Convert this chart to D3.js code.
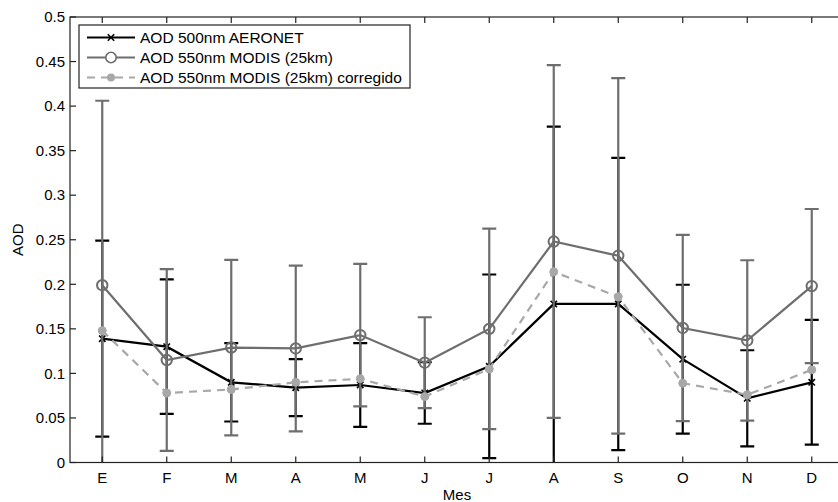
<!DOCTYPE html>
<html>
<head>
<meta charset="utf-8">
<script src="https://cdn.jsdelivr.net/npm/d3@7"></script>
<style>
  html, body { margin: 0; padding: 0; background: #fff; }
  svg { display: block; font-family: "Liberation Sans", Arial, Helvetica, sans-serif; }
</style>
</head>
<body>
<svg id="chart" width="838" height="502"></svg>
<script>
// Monthly AOD climatology: AERONET vs MODIS (25 km) and corrected MODIS
const months = ["E", "F", "M", "A", "M", "J", "J", "A", "S", "O", "N", "D"];

const aeronetMean = [0.139, 0.130, 0.090, 0.084, 0.087, 0.078, 0.108, 0.178, 0.178, 0.116, 0.072, 0.090];
const aeronetStd  = [0.110, 0.0755, 0.044, 0.032, 0.047, 0.0345, 0.103, 0.199, 0.164, 0.0835, 0.054, 0.070];

const modisMean = [0.199, 0.115, 0.129, 0.128, 0.143, 0.112, 0.150, 0.248, 0.232, 0.151, 0.137, 0.198];
const modisStd  = [0.207, 0.102, 0.0985, 0.093, 0.080, 0.051, 0.1125, 0.198, 0.1995, 0.1045, 0.090, 0.0865];

const correctedMean = [0.148, 0.078, 0.082, 0.090, 0.094, 0.074, 0.105, 0.214, 0.186, 0.089, 0.076, 0.104];

const yTicks = [0, 0.05, 0.1, 0.15, 0.2, 0.25, 0.3, 0.35, 0.4, 0.45, 0.5];

const legendLabels = [
  "AOD 500nm AERONET",
  "AOD 550nm MODIS (25km)",
  "AOD 550nm MODIS (25km) corregido"
];

const C_AER = "#000000", C_MOD = "#6e6e6e", C_COR = "#a8a8a8";

const svg = d3.select("#chart");
const mLeft = 70, mRight = 844, mTop = 17, mBottom = 462.5;

const x = d3.scaleLinear().domain([0.5, 12.5]).range([mLeft, mRight]);
const y = d3.scaleLinear().domain([0, 0.5]).range([mBottom, mTop]);
const idx = d3.range(1, 13);

svg.append("defs").append("clipPath").attr("id", "plotClip")
  .append("rect").attr("x", mLeft).attr("y", mTop)
  .attr("width", mRight - mLeft).attr("height", mBottom - mTop);

const plot = svg.append("g").attr("clip-path", "url(#plotClip)");

function errorBars(g, mean, std, color, capW) {
  const eb = g.append("g").attr("stroke", color).attr("stroke-width", 2.2).attr("fill", "none");
  idx.forEach((k, i) => {
    const lo = mean[i] - std[i], hi = mean[i] + std[i];
    eb.append("line").attr("x1", x(k)).attr("x2", x(k)).attr("y1", y(lo)).attr("y2", y(hi));
    eb.append("line").attr("x1", x(k) - capW / 2).attr("x2", x(k) + capW / 2).attr("y1", y(lo)).attr("y2", y(lo));
    eb.append("line").attr("x1", x(k) - capW / 2).attr("x2", x(k) + capW / 2).attr("y1", y(hi)).attr("y2", y(hi));
  });
}

const line = d3.line().x((d, i) => x(i + 1)).y(d => y(d));

// AERONET series
errorBars(plot, aeronetMean, aeronetStd, C_AER, 14);
plot.append("path").datum(aeronetMean).attr("d", line)
  .attr("fill", "none").attr("stroke", C_AER).attr("stroke-width", 2.2);
function xMark(g, cx, cy, s, color) {
  g.append("path").attr("d", `M${cx - s},${cy - s}L${cx + s},${cy + s}M${cx - s},${cy + s}L${cx + s},${cy - s}`)
    .attr("stroke", color).attr("stroke-width", 1.6).attr("fill", "none");
}
aeronetMean.forEach((v, i) => xMark(plot, x(i + 1), y(v), 3.2, C_AER));

// MODIS series
errorBars(plot, modisMean, modisStd, C_MOD, 14);
plot.append("path").datum(modisMean).attr("d", line)
  .attr("fill", "none").attr("stroke", C_MOD).attr("stroke-width", 2.2);
plot.selectAll("circle.mod").data(modisMean).enter().append("circle")
  .attr("class", "mod").attr("cx", (d, i) => x(i + 1)).attr("cy", d => y(d)).attr("r", 5.2)
  .attr("fill", "none").attr("stroke", C_MOD).attr("stroke-width", 2);

// Corrected MODIS series
plot.append("path").datum(correctedMean).attr("d", line)
  .attr("fill", "none").attr("stroke", C_COR).attr("stroke-width", 2.2)
  .attr("stroke-dasharray", "8,6");
plot.selectAll("circle.cor").data(correctedMean).enter().append("circle")
  .attr("class", "cor").attr("cx", (d, i) => x(i + 1)).attr("cy", d => y(d)).attr("r", 4)
  .attr("fill", C_COR).attr("stroke", C_COR).attr("stroke-width", 1);

// Axes box with inward ticks
const axisColor = "#222";
const axes = svg.append("g").attr("stroke", axisColor).attr("stroke-width", 1.2);
axes.append("rect").attr("x", mLeft).attr("y", mTop).attr("width", mRight - mLeft).attr("height", mBottom - mTop)
  .attr("fill", "none");
const tl = 6;
yTicks.forEach(t => {
  axes.append("line").attr("x1", mLeft).attr("x2", mLeft + tl).attr("y1", y(t)).attr("y2", y(t));
  axes.append("line").attr("x1", mRight).attr("x2", mRight - tl).attr("y1", y(t)).attr("y2", y(t));
});
idx.forEach(k => {
  axes.append("line").attr("x1", x(k)).attr("x2", x(k)).attr("y1", mBottom).attr("y2", mBottom - tl);
  axes.append("line").attr("x1", x(k)).attr("x2", x(k)).attr("y1", mTop).attr("y2", mTop + tl);
});

const fs = 15;
svg.append("g").selectAll("text").data(yTicks).enter().append("text")
  .attr("x", mLeft - 5).attr("y", d => y(d)).attr("dy", "0.35em")
  .attr("text-anchor", "end").attr("font-size", fs).attr("fill", "#000")
  .text(d => d3.format("")(d));

svg.append("g").selectAll("text").data(months).enter().append("text")
  .attr("x", (d, i) => x(i + 1)).attr("y", mBottom + 20)
  .attr("text-anchor", "middle").attr("font-size", fs).attr("fill", "#000")
  .text(d => d);

svg.append("text").attr("x", (mLeft + mRight) / 2).attr("y", 500)
  .attr("text-anchor", "middle").attr("font-size", fs).text("Mes");

svg.append("text").attr("transform", `translate(23,${(mTop + mBottom) / 2}) rotate(-90)`)
  .attr("text-anchor", "middle").attr("font-size", fs).text("AOD");

// Legend
const lg = svg.append("g");
lg.append("rect").attr("x", 79).attr("y", 25).attr("width", 331).attr("height", 63)
  .attr("fill", "#fff").attr("stroke", axisColor).attr("stroke-width", 1.2);
const rows = [37.5, 57.5, 77.5];
const styles = [
  { c: C_AER, dash: null }, { c: C_MOD, dash: null }, { c: C_COR, dash: "8,6" }
];
rows.forEach((ry, i) => {
  lg.append("line").attr("x1", 87).attr("x2", 135).attr("y1", ry).attr("y2", ry)
    .attr("stroke", styles[i].c).attr("stroke-width", 2.2)
    .attr("stroke-dasharray", styles[i].dash);
  lg.append("text").attr("x", 140).attr("y", ry).attr("dy", "0.35em")
    .attr("font-size", 15.5).text(legendLabels[i]);
});
xMark(lg, 111, rows[0], 3.2, C_AER);
lg.append("circle").attr("cx", 111).attr("cy", rows[1]).attr("r", 5.2)
  .attr("fill", "#fff").attr("stroke", C_MOD).attr("stroke-width", 1.6);
lg.append("circle").attr("cx", 111).attr("cy", rows[2]).attr("r", 4).attr("fill", C_COR);
</script>
</body>
</html>
